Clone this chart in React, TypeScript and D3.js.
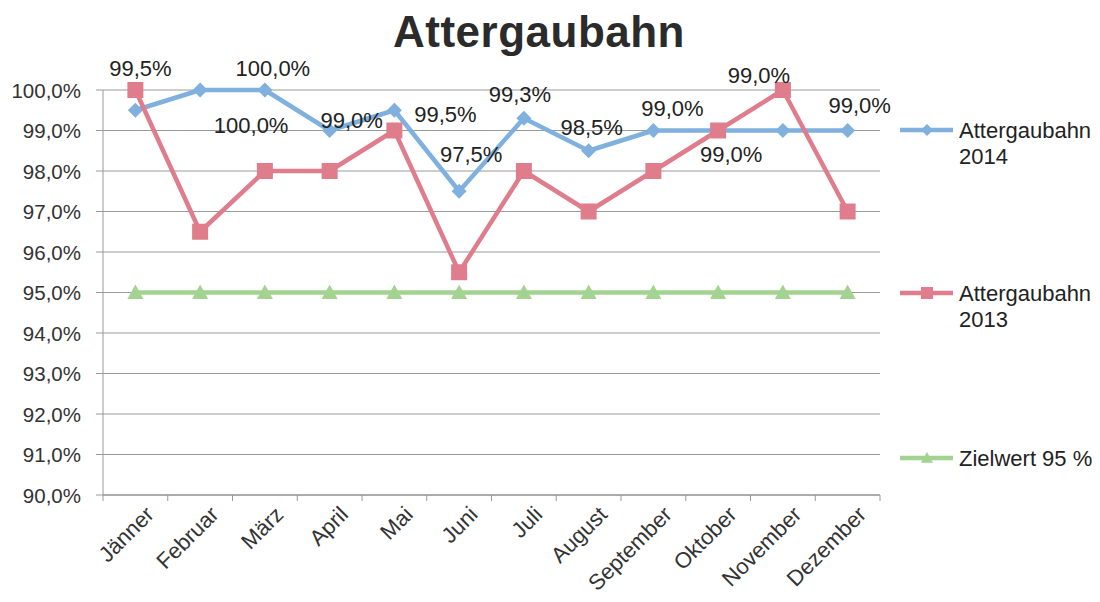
import React from "react";
import * as d3 from "d3";

const months = ["Jänner", "Februar", "März", "April", "Mai", "Juni", "Juli", "August", "September", "Oktober", "November", "Dezember"];
const values2014 = [99.5, 100, 100, 99, 99.5, 97.5, 99.3, 98.5, 99, 99, 99, 99];
const values2013 = [100, 96.5, 98, 98, 99, 95.5, 98, 97, 98, 99, 100, 97];
const valuesTarget = [95, 95, 95, 95, 95, 95, 95, 95, 95, 95, 95, 95];
const yTicks = [90, 91, 92, 93, 94, 95, 96, 97, 98, 99, 100];
const title = "Attergaubahn";
const legendNames = [["Attergaubahn", "2014"], ["Attergaubahn", "2013"], ["Zielwert 95 %"]];

// label offsets (placement of the 2014 data labels relative to their points)
const labelDx = [5, 51, 8, 22, 51, 12, -4, 3, 19, 13, -24, 12];
const labelDy = [-34, 43, -14, -3, 12, -29, -16, -16, -15, 31, -48, -18];

const W = 1100, H = 602;
const left = 103, right = 880, top = 90, bottom = 495;

const BLUE = "#7fb0de";
const RED = "#df7d8c";
const GREEN = "#a3d391";
const FONT = "'Liberation Sans', Arial, sans-serif";

const fmt = (v: number) => v.toFixed(1).replace(".", ",") + "%";

export default function App() {
  const x = d3.scaleBand<string>().domain(months).range([left, right]);
  const cx = (m: string) => (x(m) as number) + x.bandwidth() / 2;
  const y = d3.scaleLinear().domain([90, 100]).range([bottom, top]);
  const line = d3.line<number>().x((_, i) => cx(months[i])).y((v) => y(v));

  const diamond = (px: number, py: number, s: number) =>
    `M${px},${py - s}L${px + s},${py}L${px},${py + s}L${px - s},${py}Z`;
  const tri = (px: number, py: number, s: number) =>
    `M${px},${py - s}L${px + s},${py + s * 0.8}L${px - s},${py + s * 0.8}Z`;

  const legendY = [130, 293, 458];
  const legendColors = [BLUE, RED, GREEN];

  return (
    <svg width={W} height={H} style={{ position: "absolute", left: 0, top: 0, background: "#fff" }} fontFamily={FONT}>
      <rect x={0} y={0} width={W} height={H} fill="#fff" />
      <text x={539} y={47} textAnchor="middle" fontSize={44} fontWeight="bold" fill="#2b2b2b" letterSpacing={0.5}>
        {title}
      </text>
      {/* gridlines */}
      {yTicks.map((t) => (
        <g key={t}>
          <line x1={96} x2={right} y1={y(t)} y2={y(t)} stroke="#9a9a9a" strokeWidth={1} />
          <text x={81} y={y(t) + 7.5} textAnchor="end" fontSize={20.5} fill="#333">
            {fmt(t)}
          </text>
        </g>
      ))}
      {/* axes */}
      <line x1={left} x2={left} y1={top} y2={bottom} stroke="#9a9a9a" strokeWidth={1} />
      <line x1={left} x2={right} y1={bottom} y2={bottom} stroke="#8a8a8a" strokeWidth={1} />
      {months.map((m) => (
        <line key={"tk" + m} x1={(x(m) as number)} x2={(x(m) as number)} y1={bottom} y2={bottom + 6} stroke="#9a9a9a" />
      ))}
      <line x1={right} x2={right} y1={bottom} y2={bottom + 6} stroke="#9a9a9a" />
      {months.map((m) => (
        <text
          key={"xl" + m}
          transform={`translate(${cx(m) + 9},${bottom + 10}) rotate(-45)`}
          textAnchor="end"
          fontSize={22}
          dy="0.7em"
          fill="#333"
        >
          {m}
        </text>
      ))}
      {/* series 2014 */}
      <path d={line(values2014) as string} fill="none" stroke={BLUE} strokeWidth={4.5} strokeLinejoin="round" />
      {values2014.map((v, i) => (
        <path key={"d" + i} d={diamond(cx(months[i]), y(v), 7.5)} fill={BLUE} />
      ))}
      {/* series 2013 */}
      <path d={line(values2013) as string} fill="none" stroke={RED} strokeWidth={4.5} strokeLinejoin="round" />
      {values2013.map((v, i) => (
        <rect key={"s" + i} x={cx(months[i]) - 8} y={y(v) - 8} width={16} height={16} fill={RED} />
      ))}
      {/* target */}
      <path d={line(valuesTarget) as string} fill="none" stroke={GREEN} strokeWidth={4.5} />
      {valuesTarget.map((v, i) => (
        <path key={"t" + i} d={tri(cx(months[i]), y(v), 8)} fill={GREEN} />
      ))}
      {/* data labels */}
      {values2014.map((v, i) => (
        <text
          key={"lb" + i}
          x={cx(months[i]) + labelDx[i]}
          y={y(v) + labelDy[i]}
          textAnchor="middle"
          fontSize={22}
          fill="#222"
        >
          {fmt(v)}
        </text>
      ))}
      {/* legend */}
      {legendNames.map((names, k) => {
        const ly = legendY[k];
        const mx = 927;
        return (
          <g key={"lg" + k}>
            <line x1={900} x2={953} y1={ly} y2={ly} stroke={legendColors[k]} strokeWidth={4.5} />
            {k === 0 && <path d={diamond(mx, ly, 6)} fill={BLUE} />}
            {k === 1 && <rect x={mx - 6} y={ly - 6} width={12} height={12} fill={RED} />}
            {k === 2 && <path d={tri(mx, ly, 6)} fill={GREEN} />}
            {names.map((n, j) => (
              <text key={j} x={959} y={ly + (names.length === 1 ? 8 : 8 + j * 26)} fontSize={22} fill="#222">
                {n}
              </text>
            ))}
          </g>
        );
      })}
    </svg>
  );
}
